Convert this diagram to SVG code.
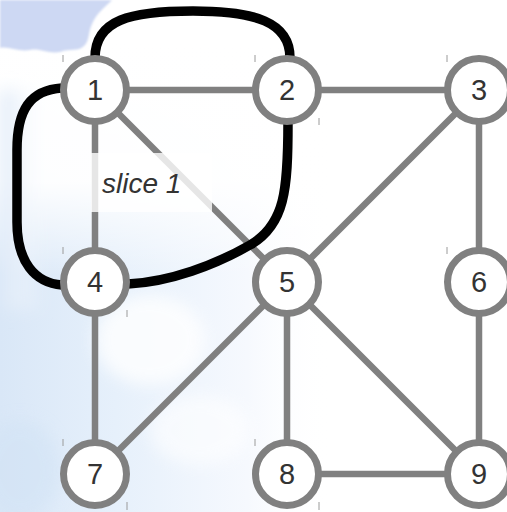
<svg xmlns="http://www.w3.org/2000/svg" width="507" height="512" viewBox="0 0 507 512">
  <defs>
    <linearGradient id="skyFade" x1="0" y1="0" x2="1" y2="0">
      <stop offset="0" stop-color="#d9e7f7"/>
      <stop offset="0.35" stop-color="#e6f0fb"/>
      <stop offset="0.75" stop-color="#f6f9fe"/>
      <stop offset="1" stop-color="#ffffff" stop-opacity="0"/>
    </linearGradient>
    <linearGradient id="skyDown" x1="0" y1="0" x2="0" y2="1">
      <stop offset="0" stop-color="#ffffff" stop-opacity="1"/>
      <stop offset="0.3" stop-color="#ffffff" stop-opacity="0.95"/>
      <stop offset="0.5" stop-color="#ffffff" stop-opacity="0"/>
      <stop offset="1" stop-color="#ffffff" stop-opacity="0"/>
    </linearGradient>
    <linearGradient id="leftStrip" x1="0" y1="0" x2="1" y2="0">
      <stop offset="0" stop-color="#dde9f8"/>
      <stop offset="1" stop-color="#ffffff" stop-opacity="0"/>
    </linearGradient>
    <filter id="soft" x="-50%" y="-50%" width="200%" height="200%">
      <feGaussianBlur stdDeviation="8"/>
    </filter>
    <filter id="edge" x="-10%" y="-10%" width="120%" height="120%">
      <feGaussianBlur stdDeviation="1"/>
    </filter>
  </defs>
  <style>
    .edge { stroke: #808080; stroke-width: 6.5; fill: none; }
    .slice { stroke: #000000; stroke-width: 9.5; fill: none; }
    .node circle { fill: #ffffff; stroke: #808080; stroke-width: 7; }
    .node text { font-family: "Liberation Sans", Arial, sans-serif; font-size: 29px; fill: #333333; text-anchor: middle; }
    .tick { stroke: #9a9a9a; stroke-width: 1; }
    .label { font-family: "Liberation Sans", Arial, sans-serif; font-size: 28px; font-style: italic; fill: #333333; }
  </style>

  <!-- sky backdrop -->
  <rect x="0" y="0" width="507" height="512" fill="#ffffff"/>
  <g id="sky">
    <rect x="0" y="40" width="330" height="472" fill="url(#skyFade)"/>
    <rect x="0" y="40" width="330" height="472" fill="url(#skyDown)"/>
    <rect x="0" y="90" width="45" height="220" fill="url(#leftStrip)" filter="url(#soft)"/>
    <ellipse cx="150" cy="340" rx="55" ry="45" fill="#ffffff" opacity="0.8" filter="url(#soft)"/>
    <ellipse cx="200" cy="430" rx="50" ry="35" fill="#ffffff" opacity="0.6" filter="url(#soft)"/>
    <ellipse cx="20" cy="470" rx="40" ry="50" fill="#d2e3f5" opacity="0.6" filter="url(#soft)"/>
    <path d="M0,0 L112,0 C104,8 96,14 92,24 C88,32 90,40 84,46 C78,52 70,48 60,52 C48,54 40,48 30,50 C18,52 8,46 0,48 Z" fill="#cdd8f3" filter="url(#edge)"/>
  </g>

  <!-- grid ticks -->
  <g id="ticks">
    <line class="tick" x1="63" y1="55" x2="63" y2="62"/>
    <line class="tick" x1="255" y1="55" x2="255" y2="62"/>
    <line class="tick" x1="447" y1="55" x2="447" y2="62"/>
    <line class="tick" x1="319" y1="118" x2="319" y2="125"/>
    <line class="tick" x1="63" y1="247" x2="63" y2="254"/>
    <line class="tick" x1="447" y1="247" x2="447" y2="254"/>
    <line class="tick" x1="127" y1="310" x2="127" y2="317"/>
    <line class="tick" x1="63" y1="439" x2="63" y2="446"/>
    <line class="tick" x1="255" y1="439" x2="255" y2="446"/>
    <line class="tick" x1="447" y1="439" x2="447" y2="446"/>
    <line class="tick" x1="127" y1="502" x2="127" y2="510"/>
    <line class="tick" x1="319" y1="502" x2="319" y2="510"/>
  </g>

  <!-- connectors -->
  <g id="connectors">
    <line class="edge" x1="95" y1="90" x2="287" y2="90"/>
    <line class="edge" x1="287" y1="90" x2="479" y2="90"/>
    <line class="edge" x1="95" y1="90" x2="95" y2="282"/>
    <line class="edge" x1="95" y1="90" x2="287" y2="282"/>
    <line class="edge" x1="479" y1="90" x2="287" y2="282"/>
    <line class="edge" x1="479" y1="90" x2="479" y2="282"/>
    <line class="edge" x1="95" y1="282" x2="95" y2="474"/>
    <line class="edge" x1="287" y1="282" x2="95" y2="474"/>
    <line class="edge" x1="287" y1="282" x2="287" y2="474"/>
    <line class="edge" x1="287" y1="282" x2="479" y2="474"/>
    <line class="edge" x1="479" y1="282" x2="479" y2="474"/>
    <line class="edge" x1="287" y1="474" x2="479" y2="474"/>
    <!-- slice boundary -->
    <path class="slice" d="M95,58 C95,20 130,11 193,11 C255,11 290,22 290,58"/>
    <path class="slice" d="M62,88 C30,90 17,110 17,150 L17,222 C17,262 35,283 62,285"/>
    <path class="slice" d="M288,122 C288,190 285,225 250,245 C215,265 170,282 128,284"/>
  </g>

  <!-- slice label -->
  <g id="slice-label">
    <rect x="91" y="153" width="121" height="59" fill="#ffffff" opacity="0.8"/>
    <text class="label" x="102" y="193">slice 1</text>
  </g>

  <!-- nodes -->
  <g id="n1" class="node"><circle cx="95" cy="90" r="31.5"/><text x="95" y="100">1</text></g>
  <g id="n2" class="node"><circle cx="287" cy="90" r="31.5"/><text x="287" y="100">2</text></g>
  <g id="n3" class="node"><circle cx="479" cy="90" r="31.5"/><text x="479" y="100">3</text></g>
  <g id="n4" class="node"><circle cx="95" cy="282" r="31.5"/><text x="95" y="292">4</text></g>
  <g id="n5" class="node"><circle cx="287" cy="282" r="31.5"/><text x="287" y="292">5</text></g>
  <g id="n6" class="node"><circle cx="479" cy="282" r="31.5"/><text x="479" y="292">6</text></g>
  <g id="n7" class="node"><circle cx="95" cy="474" r="31.5"/><text x="95" y="484">7</text></g>
  <g id="n8" class="node"><circle cx="287" cy="474" r="31.5"/><text x="287" y="484">8</text></g>
  <g id="n9" class="node"><circle cx="479" cy="474" r="31.5"/><text x="479" y="484">9</text></g>
</svg>
